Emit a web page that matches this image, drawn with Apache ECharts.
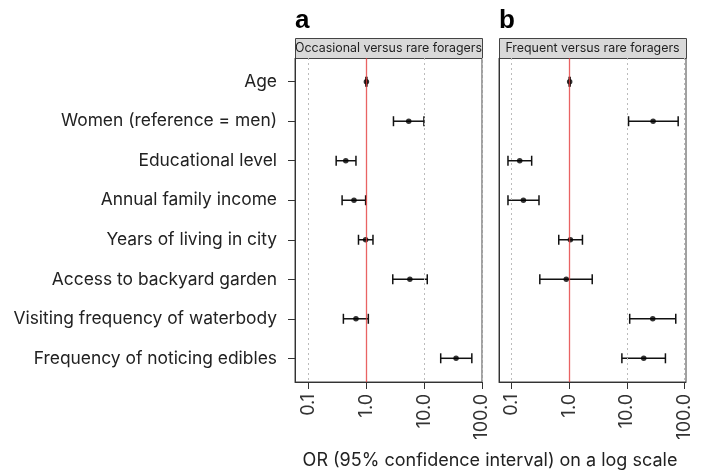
<!DOCTYPE html>
<html>
<head>
<meta charset="utf-8">
<script src="https://cdn.jsdelivr.net/npm/echarts@6/dist/echarts.min.js"></script>
<style>
  html, body { margin: 0; padding: 0; background: #fff; }
  #chart { width: 708px; height: 471px; }
</style>
</head>
<body>
<div id="chart"></div>
<script>
// Predictors, top to bottom
const categories = [
  'Age',
  'Women (reference = men)',
  'Educational level',
  'Annual family income',
  'Years of living in city',
  'Access to backyard garden',
  'Visiting frequency of waterbody',
  'Frequency of noticing edibles'
];

// Panel a: occasional versus rare foragers (odds ratio and 95% CI)
const orA   = [1.00, 5.4, 0.44, 0.61, 0.97, 5.65, 0.66, 35.6];
const lowA  = [0.98, 2.94, 0.30, 0.38, 0.73, 2.86, 0.40, 19.3];
const highA = [1.02, 9.9, 0.66, 0.97, 1.30, 11.3, 1.08, 66.7];

// Panel b: frequent versus rare foragers
const orB   = [1.02, 28.5, 0.139, 0.161, 1.05, 0.89, 28.1, 19.6];
const lowB  = [1.00, 10.7, 0.087, 0.087, 0.66, 0.31, 11.2, 8.2];
const highB = [1.04, 77.5, 0.224, 0.30, 1.70, 2.51, 70.4, 46.6];

const panelTitles = ['Occasional versus rare foragers', 'Frequent versus rare foragers'];
const panelLetters = ['a', 'b'];
const tickValues = [0.1, 1, 10, 100];
const tickLabels = ['0.1', '1.0', '10.0', '100.0'];
const axisTitle = 'OR (95% confidence interval) on a log scale';

const FONT = 'Inter, Roboto, "Noto Sans", sans-serif';
const logTicks = tickValues.map(v => Math.log10(v));
const tickLabelOf = v => {
  const i = logTicks.findIndex(t => Math.abs(t - v) < 1e-6);
  return i >= 0 ? tickLabels[i] : '';
};
const rowIdx = categories.map((_, i) => i);

const panels = [
  { left: 295, min: -1.235, max: 2.0, or: orA, low: lowA, high: highA, labels: true },
  { left: 499, min: -1.216, max: 2.025, or: orB, low: lowB, high: highB, labels: false }
];
const PANEL_W = 187, TOP = 58, PLOT_H = 324;

const grids = [], xAxes = [], yAxes = [], series = [], graphics = [];

panels.forEach((p, k) => {
  grids.push({
    left: p.left, top: TOP, width: PANEL_W, height: PLOT_H,
    show: true, borderColor: '#444', borderWidth: 1, backgroundColor: '#fff'
  });
  xAxes.push({
    gridIndex: k, type: 'value', min: p.min, max: p.max,
    axisLine: { show: true, onZero: false, lineStyle: { color: '#333', width: 1 } },
    axisTick: { show: true, customValues: logTicks, length: 7, lineStyle: { color: '#333' } },
    axisLabel: {
      customValues: logTicks, rotate: 90, margin: 12, fontSize: 18, color: '#333',
      fontFamily: FONT, formatter: v => tickLabelOf(v)
    },
    splitLine: { show: false }
  });
  yAxes.push({
    gridIndex: k, type: 'value', min: -0.6, max: 7.6, inverse: true,
    axisLine: { show: true, onZero: false, lineStyle: { color: '#333', width: 1 } },
    axisTick: { show: p.labels, customValues: rowIdx, length: 7, lineStyle: { color: '#333' } },
    axisLabel: {
      show: p.labels, customValues: rowIdx, margin: 18, fontSize: 17.4, color: '#222',
      fontFamily: FONT, formatter: v => categories[Math.round(v)] || ''
    },
    splitLine: { show: false }
  });

  // reference lines: dotted decades and the red line at OR = 1
  const refLines = logTicks.map(v => ({
    xAxis: v,
    lineStyle: v === 0
      ? { color: 'rgba(228,60,60,0.8)', type: 'solid', width: 1.3 }
      : { color: '#bbb', type: [2, 3], width: 1 }
  }));

  // confidence intervals with end caps
  series.push({
    type: 'custom', xAxisIndex: k, yAxisIndex: k, z: 3,
    data: rowIdx.map(i => [Math.log10(p.low[i]), Math.log10(p.high[i]), i]),
    encode: { x: [0, 1], y: 2 },
    renderItem: (params, api) => {
      const a = api.coord([api.value(0), api.value(2)]);
      const b = api.coord([api.value(1), api.value(2)]);
      const st = { stroke: '#111', lineWidth: 1.5 };
      return {
        type: 'group',
        children: [
          { type: 'line', shape: { x1: a[0], y1: a[1], x2: b[0], y2: b[1] }, style: st },
          { type: 'line', shape: { x1: a[0], y1: a[1] - 5, x2: a[0], y2: a[1] + 5 }, style: st },
          { type: 'line', shape: { x1: b[0], y1: b[1] - 5, x2: b[0], y2: b[1] + 5 }, style: st }
        ]
      };
    },
    markLine: {
      silent: true, symbol: 'none', label: { show: false }, data: refLines
    }
  });

  // point estimates
  series.push({
    type: 'scatter', xAxisIndex: k, yAxisIndex: k, z: 4,
    symbol: 'circle', symbolSize: 5.5,
    itemStyle: { color: '#000' },
    data: rowIdx.map(i => [Math.log10(p.or[i]), i])
  });

  // strip header and panel letter
  graphics.push({
    type: 'rect', left: p.left, top: 38,
    shape: { width: PANEL_W, height: 20 },
    style: { fill: '#d9d9d9', stroke: '#444', lineWidth: 1 }
  });
  graphics.push({
    type: 'text', x: p.left + PANEL_W / 2, y: 48,
    style: {
      text: panelTitles[k], fill: '#222', font: '12.4px ' + FONT,
      textAlign: 'center', textVerticalAlign: 'middle'
    }
  });
  graphics.push({
    type: 'text', x: p.left, y: 8,
    style: { text: panelLetters[k], fill: '#000', font: 'bold 26px "Liberation Sans", Arial, sans-serif' }
  });
});

graphics.push({
  type: 'text', x: 490, y: 461,
  style: {
    text: axisTitle, fill: '#222', font: '18px ' + FONT,
    textAlign: 'center', textVerticalAlign: 'middle'
  }
});

const chart = echarts.init(document.getElementById('chart'), null, { renderer: 'canvas' });
chart.setOption({
  animation: false,
  backgroundColor: '#fff',
  grid: grids,
  xAxis: xAxes,
  yAxis: yAxes,
  series: series,
  graphic: graphics
});
</script>
</body>
</html>
